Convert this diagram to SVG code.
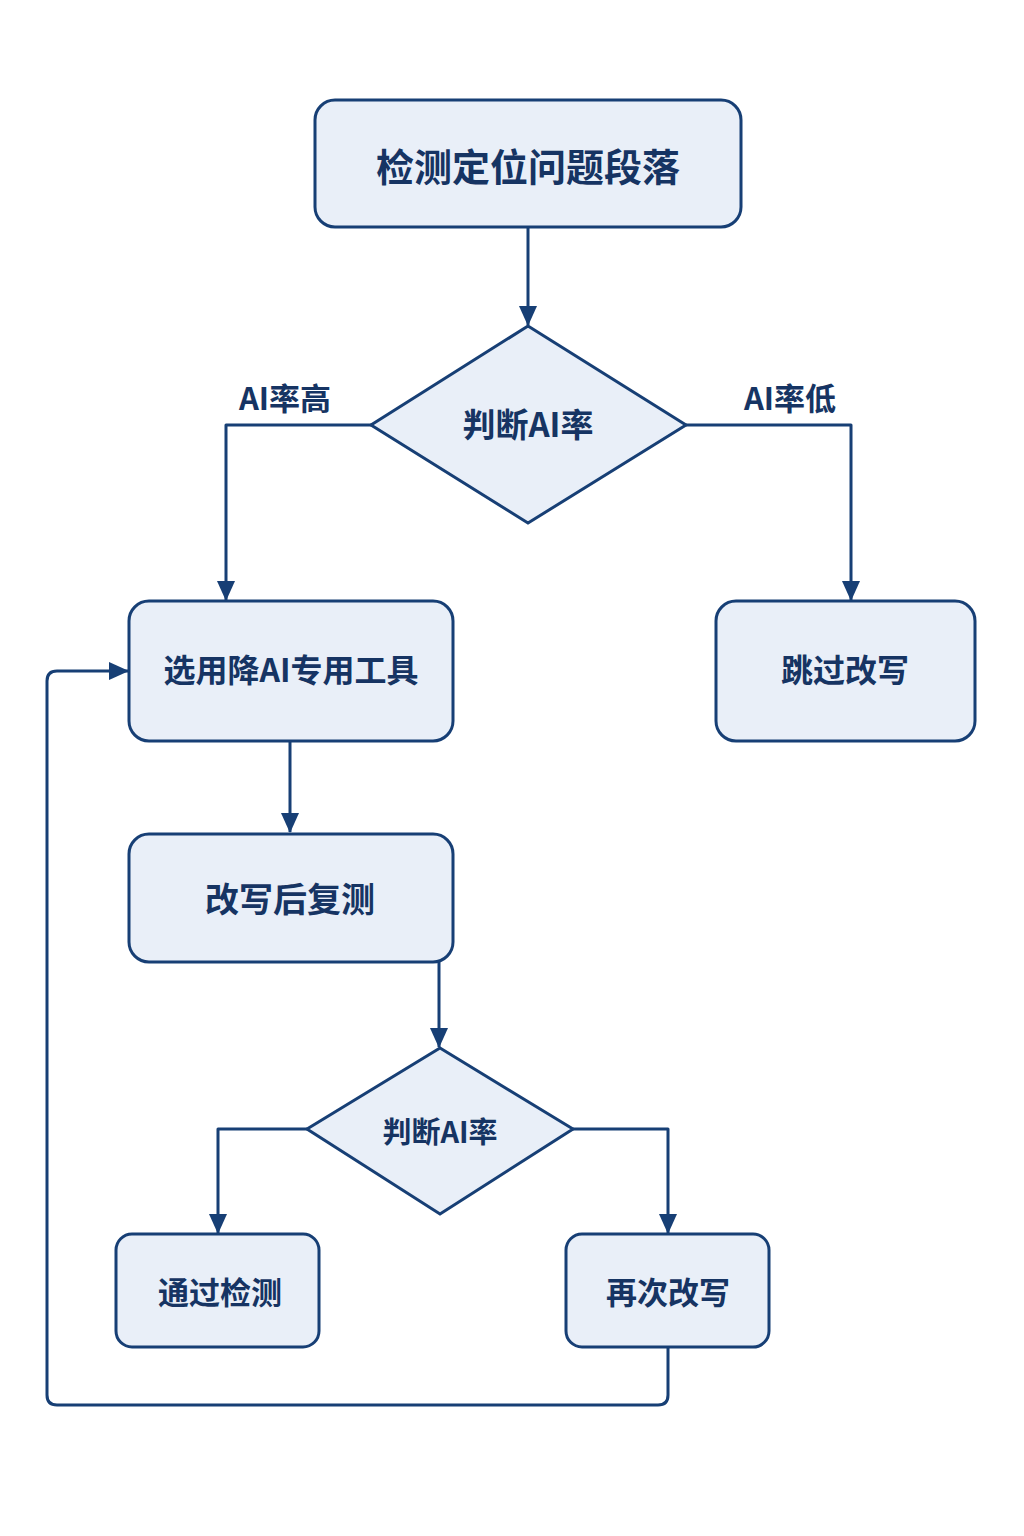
<svg xmlns="http://www.w3.org/2000/svg" width="1024" height="1536" viewBox="0 0 1024 1536">
<style>
.box{fill:#e9eff8;stroke:#173f75;stroke-width:3}
.t{font-family:"Noto Sans CJK SC","Noto Sans",sans-serif;font-weight:700;fill:#163463;text-anchor:middle;dominant-baseline:central}
.c{fill:none;stroke:#173f75;stroke-width:3;stroke-linejoin:round}
</style>
<defs>
<marker id="arr" viewBox="0 0 20 20" refX="19" refY="10" markerWidth="20" markerHeight="20" orient="auto" markerUnits="userSpaceOnUse">
<path d="M0,1 L20,10 L0,19 Z" fill="#173f75"/>
</marker>
</defs>
<rect width="1024" height="1536" fill="#ffffff"/>
<g id="connectors">
<path class="c" d="M528,227 V325" marker-end="url(#arr)"/>
<path class="c" d="M371,425 H226 V600" marker-end="url(#arr)"/>
<path class="c" d="M686,425 H851 V600" marker-end="url(#arr)"/>
<path class="c" d="M290,741 V832" marker-end="url(#arr)"/>
<path class="c" d="M439,962 V1047" marker-end="url(#arr)"/>
<path class="c" d="M307,1129 H218 V1233" marker-end="url(#arr)"/>
<path class="c" d="M573,1129 H668 V1233" marker-end="url(#arr)"/>
<path class="c" d="M668,1347 V1395 Q668,1405 658,1405 H57 Q47,1405 47,1395 V681 Q47,671 57,671 H128" marker-end="url(#arr)"/>
<text class="t" x="285" y="396" font-size="31">AI率高</text>
<text class="t" x="790" y="396" font-size="31">AI率低</text>
</g>
<g id="n1">
<rect class="box" x="315" y="100" width="426" height="127" rx="20"/>
<text class="t" x="528" y="164" font-size="38">检测定位问题段落</text>
</g>
<g id="n2">
<polygon class="box" points="528,326 686,425 528,523 371,425"/>
<text class="t" x="528" y="423" font-size="33">判断AI率</text>
</g>
<g id="n3">
<rect class="box" x="129" y="601" width="324" height="140" rx="20"/>
<text class="t" x="291" y="668" font-size="32">选用降AI专用工具</text>
</g>
<g id="n4">
<rect class="box" x="716" y="601" width="259" height="140" rx="20"/>
<text class="t" x="845" y="668" font-size="32">跳过改写</text>
</g>
<g id="n5">
<rect class="box" x="129" y="834" width="324" height="128" rx="20"/>
<text class="t" x="290" y="897" font-size="34">改写后复测</text>
</g>
<g id="n6">
<polygon class="box" points="440,1048 573,1129 440,1214 307,1129"/>
<text class="t" x="440" y="1130" font-size="29">判断AI率</text>
</g>
<g id="n7">
<rect class="box" x="116" y="1234" width="203" height="113" rx="16"/>
<text class="t" x="220" y="1290" font-size="31">通过检测</text>
</g>
<g id="n8">
<rect class="box" x="566" y="1234" width="203" height="113" rx="16"/>
<text class="t" x="668" y="1290" font-size="31">再次改写</text>
</g>
</svg>
